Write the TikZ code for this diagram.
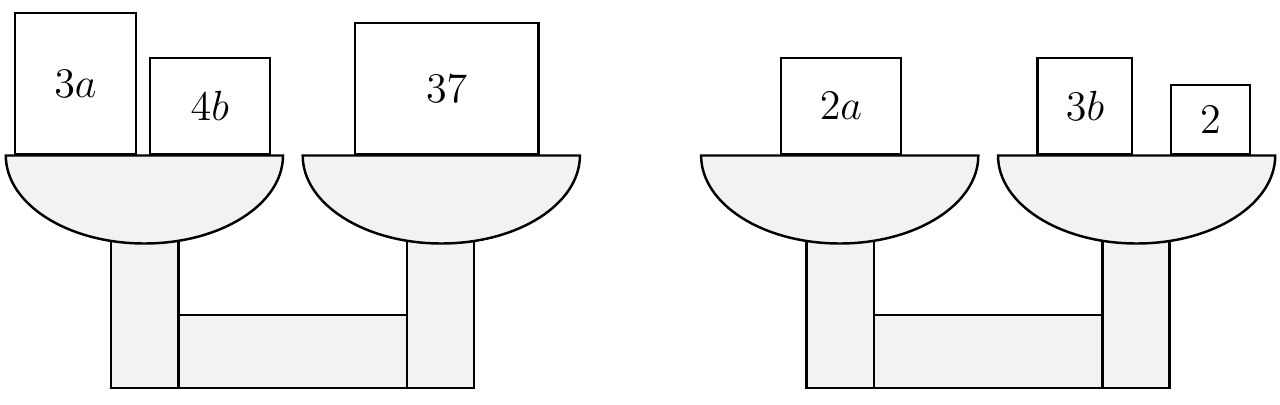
\documentclass[tikz,border=0pt]{standalone}
\usepackage{amsmath}
\usepackage{xcolor}
\usepackage{tikz}
\usetikzlibrary{calc}
\definecolor{panfill}{RGB}{242,242,242}

\begin{document}
\begin{tikzpicture}[line width=0.7pt,
  weight/.style = {draw, fill=white, inner sep=0pt, anchor=south west,
                   font=\fontsize{12.5}{15}\selectfont},
  stand/.style  = {draw, fill=panfill},
  pan/.style    = {draw, fill=panfill}]
  \useasboundingbox (0,0) rectangle (12.8,4.04);
  % the two balances
  \foreach \off in {0,6.953} {
    \begin{scope}[xshift=\off cm]
      \draw[stand] (1.11,0.16) rectangle (1.785,1.8);
      \draw[stand] (4.07,0.16) rectangle (4.74,1.8);
      \draw[stand] (1.785,0.16) rectangle (4.07,0.89);
      \draw[pan] (0.058,2.485) arc[start angle=180, end angle=360,
        x radius=1.386, y radius=0.88] -- cycle;
      \draw[pan] (3.027,2.485) arc[start angle=180, end angle=360,
        x radius=1.386, y radius=0.88] -- cycle;
    \end{scope}
  }
  % weights
  \node[weight, minimum width=1.205cm, minimum height=1.415cm] (w3a) at (0.14,2.485) {$3a$};
  \node[weight, minimum width=1.2cm, minimum height=0.965cm] (w4b) at (1.485,2.485) {$4b$};
  \node[weight, minimum width=1.838cm, minimum height=1.315cm] (w37) at (3.536,2.485) {$37$};
  \node[weight, minimum width=1.203cm, minimum height=0.96cm] (w2a) at (7.796,2.485) {$2a$};
  \node[weight, minimum width=0.946cm, minimum height=0.96cm] (w3b) at (10.364,2.485) {$3b$};
  \node[weight, minimum width=0.794cm, minimum height=0.695cm] (w2) at (11.696,2.485) {$2$};
\end{tikzpicture}
\end{document}
